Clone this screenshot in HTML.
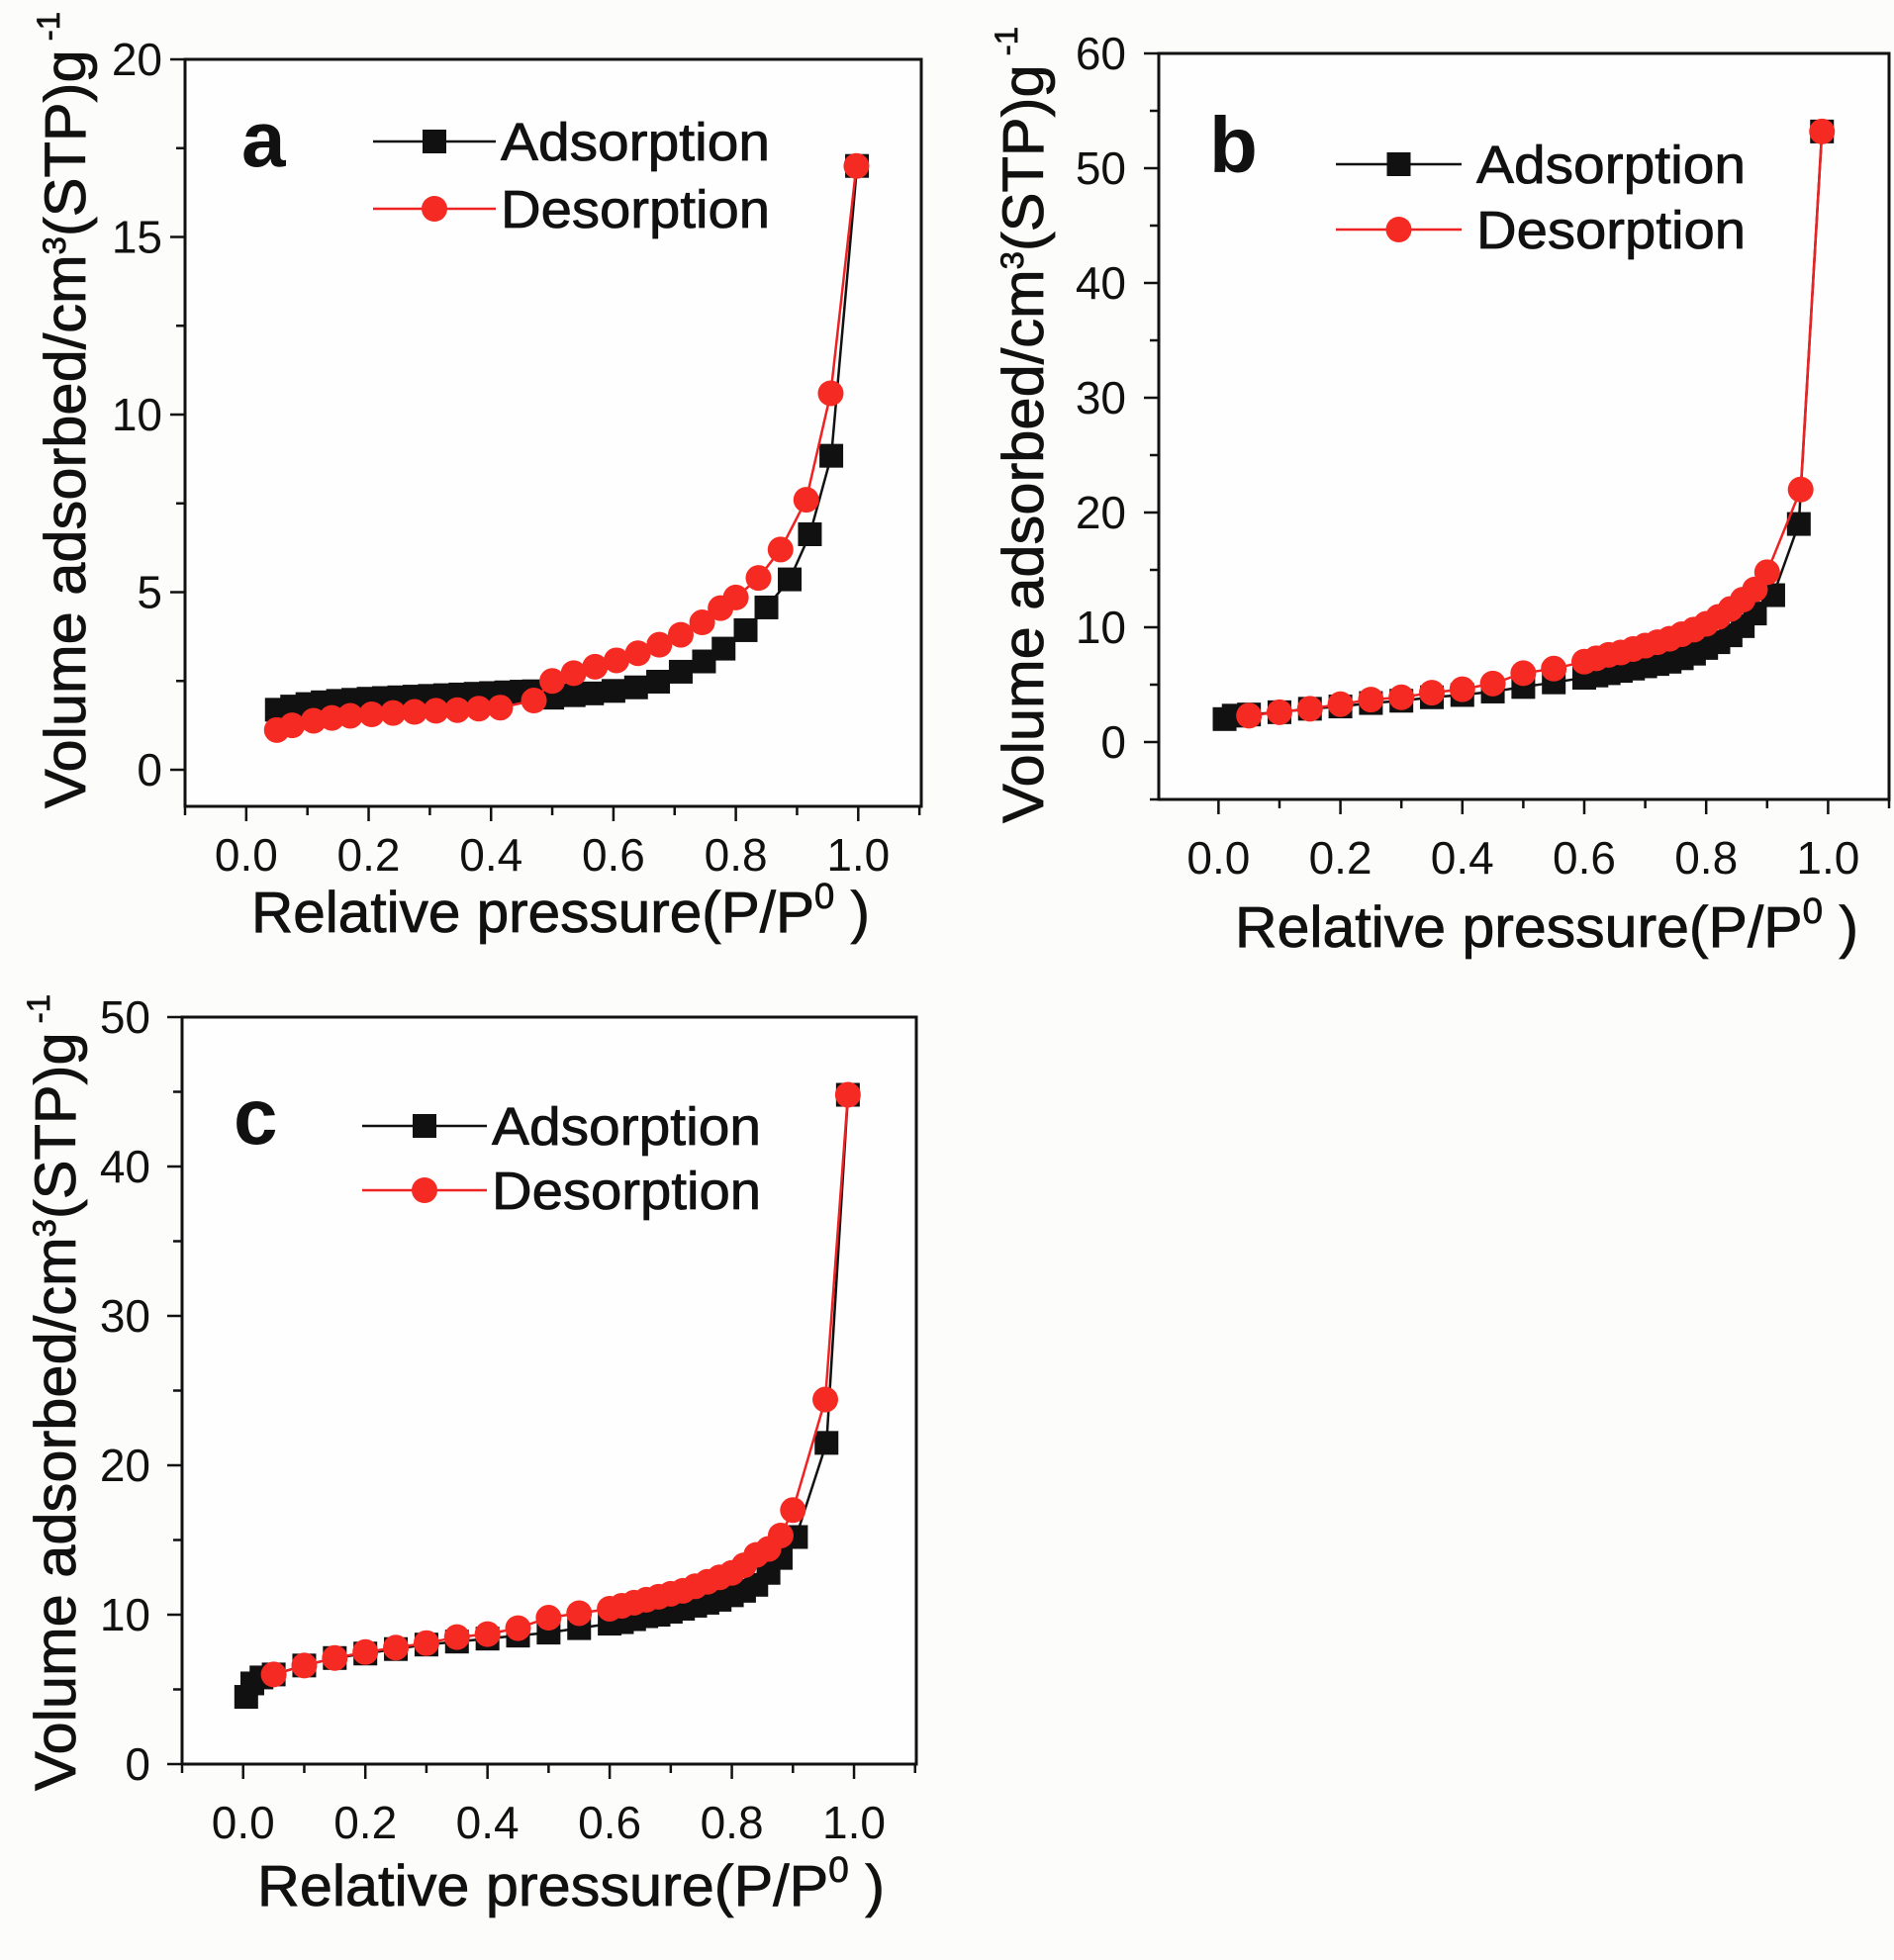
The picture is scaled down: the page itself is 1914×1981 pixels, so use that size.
<!DOCTYPE html>
<html><head><meta charset="utf-8"><style>
html,body{margin:0;padding:0;background:#fcfcfa;}
svg{display:block;}
text{font-family:"Liberation Sans",sans-serif;fill:#111;}
</style></head><body>
<svg id="s" width="1914" height="1981" viewBox="0 0 1914 1981" xmlns="http://www.w3.org/2000/svg">
<rect width="1914" height="1981" fill="#fcfcfa"/>
</svg>
<script>
const S=document.getElementById('s');
let out='';
function panel(p){
  const {L,T,R,B,x0,x1,y0,y1,yMajor,yMinor}=p;
  const X=v=>L+(v-x0)/(x1-x0)*(R-L);
  const Y=v=>B-(v-y0)/(y1-y0)*(B-T);
  out+=`<rect x="${L}" y="${T}" width="${R-L}" height="${B-T}" fill="#fefefe" stroke="#111" stroke-width="3"/>`;
  for(let i=-1;i<=11;i++){
    const v=i*0.1; const xx=X(v); if(xx<L-1||xx>R+1)continue;
    const maj=(i%2===0);
    out+=`<line x1="${xx}" y1="${B}" x2="${xx}" y2="${B+(maj?15:9)}" stroke="#111" stroke-width="2.5"/>`;
    if(maj&&i>=0&&i<=10) out+=`<text x="${xx}" y="${p.xlabY}" font-size="46" text-anchor="middle">${v.toFixed(1)}</text>`;
  }
  for(let v=Math.ceil(y0/yMinor)*yMinor;v<=y1+1e-9;v+=yMinor){
    const yy=Y(v); const maj=Math.abs(v/yMajor-Math.round(v/yMajor))<1e-6;
    out+=`<line x1="${L}" y1="${yy}" x2="${L-(maj?15:9)}" y2="${yy}" stroke="#111" stroke-width="2.5"/>`;
    if(maj) out+=`<text x="${p.ylabX}" y="${yy+16}" font-size="46" text-anchor="end">${Math.round(v)}</text>`;
  }
  const line=(d,c)=>'<polyline fill="none" stroke="'+c+'" stroke-width="2.5" points="'+d.map(q=>X(q[0]).toFixed(1)+','+Y(q[1]).toFixed(1)).join(' ')+'"/>';
  out+=line(p.ads,'#111');
  p.ads.forEach(q=>{out+=`<rect x="${X(q[0])-12}" y="${Y(q[1])-12}" width="24" height="24" fill="#111"/>`;});
  out+=line(p.des,'#ee2222');
  p.des.forEach(q=>{out+=`<circle cx="${X(q[0])}" cy="${Y(q[1])}" r="13" fill="#f52a22"/>`;});
  const g=p.leg;
  out+=`<line x1="${g.x1}" y1="${g.y1}" x2="${g.x2}" y2="${g.y1}" stroke="#111" stroke-width="2.5"/><rect x="${(g.x1+g.x2)/2-12}" y="${g.y1-12}" width="24" height="24" fill="#111"/>`;
  out+=`<line x1="${g.x1}" y1="${g.y2}" x2="${g.x2}" y2="${g.y2}" stroke="#ee2222" stroke-width="2.5"/><circle cx="${(g.x1+g.x2)/2}" cy="${g.y2}" r="13" fill="#f52a22"/>`;
  out+=`<text x="${g.tx}" y="${g.y1+19}" font-size="54" textLength="272" lengthAdjust="spacingAndGlyphs" stroke="#111" stroke-width="0.8">Adsorption</text>`;
  out+=`<text x="${g.tx}" y="${g.y2+19}" font-size="54" textLength="272" lengthAdjust="spacingAndGlyphs" stroke="#111" stroke-width="0.8">Desorption</text>`;
  out+=`<text x="${p.letter[0]}" y="${p.letter[1]}" font-size="80" font-weight="bold">${p.letter[2]}</text>`;
  out+=`<text x="${p.xt[0]}" y="${p.xt[1]}" font-size="58" textLength="${p.xt[2]}" lengthAdjust="spacingAndGlyphs" stroke="#111" stroke-width="0.8">Relative pressure(P/P<tspan font-size="36" dy="-24">0</tspan><tspan dy="24"> )</tspan></text>`;
  out+=`<text transform="translate(${p.yt[0]},${p.yt[1]}) rotate(-90)" x="-402" y="0" font-size="58" textLength="805" lengthAdjust="spacingAndGlyphs" stroke="#111" stroke-width="0.8">Volume adsorbed/cm<tspan font-size="32" dy="-20">3</tspan><tspan dy="20">(STP)g</tspan><tspan font-size="32" dy="-26"> -1</tspan></text>`;
}
const aAds=[[0.05,1.69],[0.075,1.78],[0.1,1.85],[0.125,1.9],[0.15,1.94],[0.175,1.97],[0.2,2.0],[0.225,2.02],[0.25,2.04],[0.275,2.06],[0.3,2.08],[0.325,2.1],[0.35,2.12],[0.375,2.14],[0.4,2.16],[0.425,2.18],[0.45,2.2],[0.47,2.21],[0.5,2.03],[0.535,2.1],[0.565,2.15],[0.6,2.22],[0.637,2.32],[0.673,2.48],[0.71,2.76],[0.748,3.05],[0.78,3.41],[0.816,3.93],[0.85,4.57],[0.888,5.36],[0.921,6.63],[0.956,8.84],[0.998,17.0]];
const aDes=[[0.05,1.12],[0.075,1.25],[0.11,1.38],[0.14,1.46],[0.17,1.52],[0.205,1.56],[0.24,1.6],[0.275,1.63],[0.31,1.66],[0.345,1.68],[0.38,1.72],[0.415,1.75],[0.47,1.95],[0.5,2.5],[0.535,2.72],[0.57,2.9],[0.605,3.08],[0.64,3.28],[0.675,3.52],[0.71,3.8],[0.745,4.15],[0.775,4.55],[0.8,4.85],[0.837,5.4],[0.873,6.2],[0.915,7.6],[0.955,10.6],[0.997,17.0]];
panel({L:187,T:60,R:931,B:815,x0:-0.1,x1:1.103,y0:-1.03,y1:20,yMajor:5,yMinor:2.5,xlabY:880,ylabX:164,
 ads:aAds,des:aDes,leg:{x1:377,x2:501,y1:143,y2:211,tx:506},letter:[244,168,'a'],xt:[254,942,625],yt:[86,415]});
const bAds=[[0.01,2.0],[0.025,2.3],[0.05,2.4],[0.1,2.6],[0.15,2.9],[0.2,3.1],[0.25,3.4],[0.3,3.6],[0.35,3.9],[0.4,4.1],[0.45,4.4],[0.5,4.8],[0.55,5.2],[0.6,5.6],[0.62,5.8],[0.64,6.0],[0.66,6.2],[0.68,6.4],[0.7,6.6],[0.72,6.8],[0.74,7.0],[0.76,7.3],[0.78,7.7],[0.8,8.2],[0.82,8.7],[0.84,9.3],[0.86,10.1],[0.88,11.2],[0.91,12.8],[0.952,19.0],[0.99,53.2]];
const bDes=[[0.05,2.3],[0.1,2.6],[0.15,2.9],[0.2,3.3],[0.25,3.7],[0.3,3.9],[0.35,4.3],[0.4,4.6],[0.45,5.1],[0.5,6.0],[0.55,6.4],[0.6,7.0],[0.62,7.3],[0.64,7.6],[0.66,7.8],[0.68,8.1],[0.7,8.4],[0.72,8.7],[0.74,9.0],[0.76,9.4],[0.78,9.8],[0.8,10.3],[0.82,10.9],[0.84,11.6],[0.86,12.4],[0.88,13.3],[0.9,14.8],[0.955,22.0],[0.99,53.2]];
panel({L:1171,T:54,R:1909,B:808,x0:-0.098,x1:1.1,y0:-5,y1:60,yMajor:10,yMinor:5,xlabY:883,ylabX:1138,
 ads:bAds,des:bDes,leg:{x1:1350,x2:1477,y1:166,y2:232,tx:1492},letter:[1222,174,'b'],xt:[1248,957,630],yt:[1054,430]});
const cAds=[[0.005,4.5],[0.015,5.4],[0.03,5.8],[0.05,6.0],[0.1,6.6],[0.15,7.1],[0.2,7.4],[0.25,7.7],[0.3,8.0],[0.35,8.2],[0.4,8.4],[0.45,8.6],[0.5,8.8],[0.55,9.1],[0.6,9.4],[0.62,9.5],[0.64,9.7],[0.66,9.9],[0.68,10.0],[0.7,10.2],[0.72,10.4],[0.74,10.6],[0.76,10.8],[0.78,11.0],[0.8,11.3],[0.82,11.6],[0.84,12.0],[0.86,12.8],[0.88,13.8],[0.905,15.2],[0.955,21.5],[0.99,44.8]];
const cDes=[[0.05,6.0],[0.1,6.6],[0.15,7.1],[0.2,7.5],[0.25,7.8],[0.3,8.1],[0.35,8.5],[0.4,8.7],[0.45,9.1],[0.5,9.8],[0.55,10.1],[0.6,10.4],[0.62,10.6],[0.64,10.8],[0.66,11.0],[0.68,11.2],[0.7,11.4],[0.72,11.6],[0.74,11.9],[0.76,12.2],[0.78,12.5],[0.8,12.8],[0.82,13.3],[0.84,14.0],[0.86,14.4],[0.88,15.3],[0.9,17.0],[0.953,24.4],[0.99,44.8]];
panel({L:184,T:1028,R:926,B:1783,x0:-0.1,x1:1.102,y0:0,y1:50,yMajor:10,yMinor:5,xlabY:1858,ylabX:152,
 ads:cAds,des:cDes,leg:{x1:366,x2:492,y1:1138,y2:1203,tx:497},letter:[236,1156,'c'],xt:[260,1926,634],yt:[76,1408]});
S.insertAdjacentHTML('beforeend',out);
</script>
</body></html>
